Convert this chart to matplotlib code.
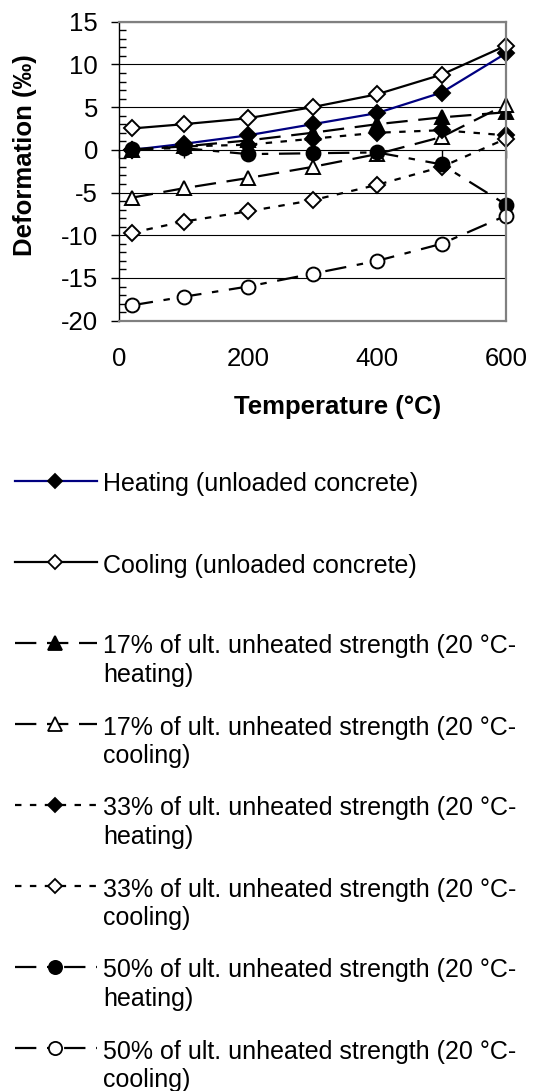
import numpy as np
import matplotlib
matplotlib.use("Agg")
import matplotlib.pyplot as plt
from matplotlib.lines import Line2D
from matplotlib.ticker import MultipleLocator

plt.rcParams['font.family'] = ['Liberation Sans', 'DejaVu Sans']
plt.rcParams['axes.unicode_minus'] = False

# data (deformation in per mille)
temps = [20, 100, 200, 300, 400, 500, 600]
heat_unloaded = [0.0, 0.7, 1.7, 3.0, 4.3, 6.7, 11.3]
cool_unloaded = [2.5, 3.0, 3.7, 5.0, 6.5, 8.8, 12.2]
heat_17 = [0.0, 0.4, 1.1, 2.0, 3.0, 3.8, 4.4]
cool_17 = [-5.6, -4.5, -3.3, -2.0, -0.5, 1.5, 5.3]
heat_33 = [0.0, 0.4, 0.6, 1.3, 2.0, 2.3, 1.7]
cool_33 = [-9.7, -8.4, -7.2, -5.9, -4.1, -2.0, 1.3]
heat_50 = [0.1, 0.2, -0.5, -0.4, -0.3, -1.7, -6.4]
cool_50 = [-18.2, -17.2, -16.0, -14.5, -13.0, -11.0, -7.7]

labels = [
    "Heating (unloaded concrete)",
    "Cooling (unloaded concrete)",
    "17% of ult. unheated strength (20 °C-\nheating)",
    "17% of ult. unheated strength (20 °C-\ncooling)",
    "33% of ult. unheated strength (20 °C-\nheating)",
    "33% of ult. unheated strength (20 °C-\ncooling)",
    "50% of ult. unheated strength (20 °C-\nheating)",
    "50% of ult. unheated strength (20 °C-\ncooling)",
]

solid = '-'
long_dash = (0, (9.6, 4.8))
dotted = (0, (2.9, 3.8))
dash_dot = (0, (9.6, 4.8, 2.9, 4.8))

# (values, color, linestyle, marker, marker face)
series = [
    (heat_unloaded, '#000080', solid, 'D', 'black'),
    (cool_unloaded, 'black', solid, 'D', 'white'),
    (heat_17, 'black', long_dash, '^', 'black'),
    (cool_17, 'black', long_dash, '^', 'white'),
    (heat_33, 'black', dotted, 'D', 'black'),
    (cool_33, 'black', dotted, 'D', 'white'),
    (heat_50, 'black', dash_dot, 'o', 'black'),
    (cool_50, 'black', dash_dot, 'o', 'white'),
]
msizes = {'D': 8.0, '^': 10.5, 'o': 10.0}

W, H = 537, 1091
fig = plt.figure(figsize=(W / 100, H / 100), dpi=100)


def px(x, y):
    # pixel position (from top-left) -> figure fraction
    return x / W, 1 - y / H


ax = fig.add_axes([119 / W, 1 - 320.7 / H, (506 - 119) / W, (320.7 - 21.7) / H])

for vals, col, ls, mk, fc in series:
    ax.plot(temps, vals, color=col, linestyle=ls, linewidth=1.6,
            marker=mk, markersize=msizes[mk], markerfacecolor=fc,
            markeredgecolor='black', markeredgewidth=1.4, clip_on=False)

ax.set_xlim(0, 600)
ax.set_ylim(-20, 15)
ax.set_xticks([0, 200, 400, 600])
ax.yaxis.set_major_locator(MultipleLocator(5))
ax.yaxis.set_minor_locator(MultipleLocator(1))
ax.tick_params(axis='x', length=0, labelsize=18.5, pad=19)
ax.tick_params(axis='y', which='major', direction='out', length=6, width=1,
               labelsize=18.5, pad=9)
ax.tick_params(axis='y', which='minor', direction='in', length=5, width=1)
ax.yaxis.grid(True, color='black', linewidth=0.8)
for side in ['top', 'right', 'bottom']:
    ax.spines[side].set_color('#808080')
    ax.spines[side].set_linewidth(1.6)
ax.spines['left'].set_color('black')
ax.spines['left'].set_linewidth(1.0)

# category axis crossing at zero
secx = ax.secondary_xaxis(20 / 35)
secx.set_xticks(range(0, 601, 100))
secx.tick_params(direction='out', length=6, width=1, labelbottom=False,
                 labeltop=False, top=False, bottom=True)
secx.spines['bottom'].set_visible(False)
secx.spines['top'].set_visible(False)

fig.text(*px(338, 407), "Temperature (°C)", fontsize=18.5, fontweight='bold',
         ha='center', va='center')
fig.text(*px(25, 155), "Deformation (‰)", fontsize=18.5, fontweight='bold',
         ha='center', va='center', rotation=90)

# legend below the plot
for i, ((vals, col, ls, mk, fc), lab) in enumerate(zip(series, labels)):
    yl = 481 + i * 81
    x0, _ = px(15, yl)
    x1, _ = px(97, yl)
    xm, yy = px(55, yl)
    fig.add_artist(Line2D([x0, xm, x1], [yy, yy, yy], transform=fig.transFigure,
                          color=col, linestyle=ls, linewidth=1.6,
                          marker=mk, markevery=[1], markersize=msizes[mk] * 0.95,
                          markerfacecolor=fc, markeredgecolor='black',
                          markeredgewidth=1.3))
    for j, line in enumerate(lab.split('\n')):
        fig.text(*px(103, yl + 3.5 + j * 28.5), line, fontsize=18,
                 ha='left', va='center')

fig.savefig("out.png", dpi=100)
